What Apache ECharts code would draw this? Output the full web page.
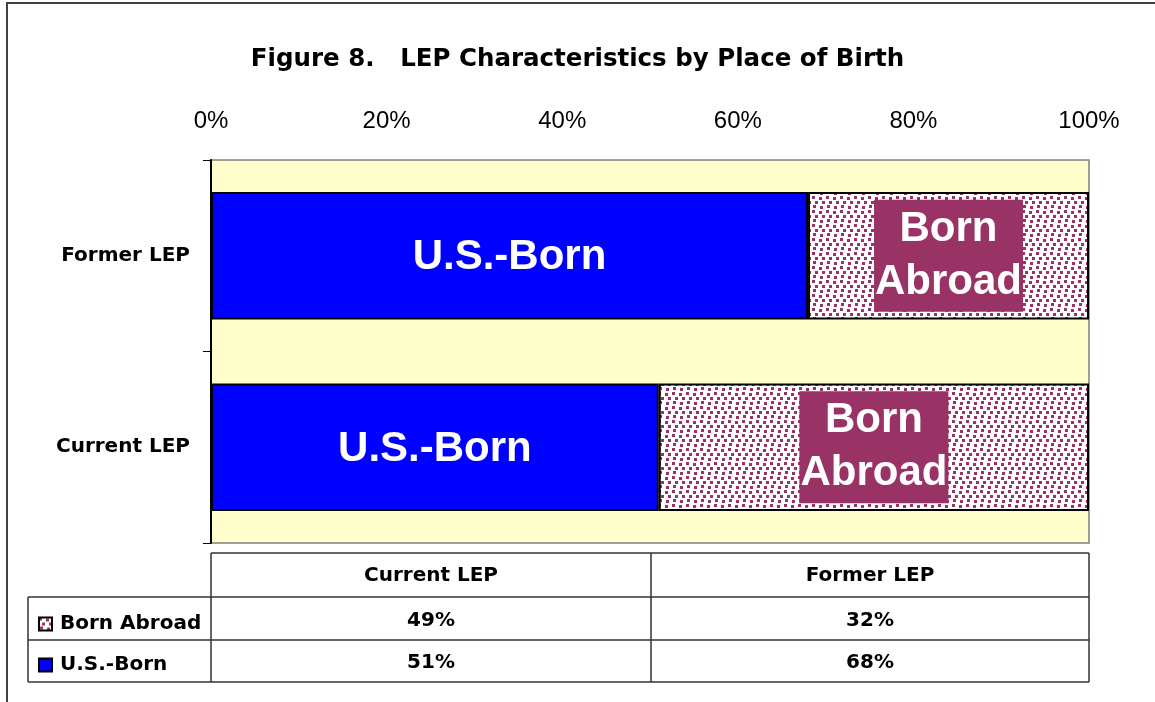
<!DOCTYPE html>
<html>
<head>
<meta charset="utf-8">
<script src="https://cdn.jsdelivr.net/npm/echarts@6/dist/echarts.min.js"></script>
<style>
  html, body { margin: 0; padding: 0; background: #fff; }
  #chart { width: 1155px; height: 702px; }
</style>
</head>
<body>
<div id="chart"></div>
<script>
  // data
  var categories = ['Current LEP', 'Former LEP'];
  var usBorn = [51, 68];
  var bornAbroad = [49, 32];
  var xTicks = [0, 20, 40, 60, 80, 100];

  var FONT = 'Liberation Sans, Arial, sans-serif';
  // the original text is widely tracked, DejaVu gets close to that width
  var WIDE = 'DejaVu Sans, Liberation Sans, sans-serif';
  var PURPLE = '#993366';

  // dotted fill used by Excel for "Born Abroad"
  function dotPattern() {
    var c = document.createElement('canvas');
    c.width = 14;
    c.height = 14;
    var ctx = c.getContext('2d');
    ctx.fillStyle = '#fff';
    ctx.fillRect(0, 0, 14, 14);
    ctx.fillStyle = PURPLE;
    var dots = [[0, 0], [7, 1], [3, 5], [10, 5], [1, 9], [8, 10]];
    dots.forEach(function (d) { ctx.fillRect(d[0], d[1], 3, 3); });
    return c;
  }
  var pattern = { image: dotPattern(), repeat: 'repeat' };

  // table geometry (below the plot)
  var tbl = { left: 28, x0: 211, mid: 651, x1: 1089, rows: [553, 597, 640, 682] };

  function line(x1, y1, x2, y2) {
    return {
      type: 'line',
      shape: { x1: x1, y1: y1, x2: x2, y2: y2 },
      style: { stroke: '#333', lineWidth: 1.5 }
    };
  }
  function cellText(x, y, t) {
    return {
      type: 'text',
      x: x, y: y,
      style: {
        text: t, fill: '#000', font: 'bold 20px ' + WIDE,
        align: 'center', verticalAlign: 'middle'
      }
    };
  }

  var graphics = [
    {
      type: 'rect',
      shape: { x: 7, y: 3, width: 1170, height: 720 },
      style: { fill: 'none', stroke: '#404040', lineWidth: 2 },
      silent: true
    },
    line(tbl.x0, tbl.rows[0], tbl.x1, tbl.rows[0]),
    line(tbl.left, tbl.rows[1], tbl.x1, tbl.rows[1]),
    line(tbl.left, tbl.rows[2], tbl.x1, tbl.rows[2]),
    line(tbl.left, tbl.rows[3], tbl.x1, tbl.rows[3]),
    line(tbl.left, tbl.rows[1], tbl.left, tbl.rows[3]),
    line(tbl.x0, tbl.rows[0], tbl.x0, tbl.rows[3]),
    line(tbl.mid, tbl.rows[0], tbl.mid, tbl.rows[3]),
    line(tbl.x1, tbl.rows[0], tbl.x1, tbl.rows[3])
  ];
  var colCenters = [(tbl.x0 + tbl.mid) / 2, (tbl.mid + tbl.x1) / 2];
  categories.forEach(function (c, i) {
    graphics.push(cellText(colCenters[i], (tbl.rows[0] + tbl.rows[1]) / 2 + 1, c));
    graphics.push(cellText(colCenters[i], (tbl.rows[1] + tbl.rows[2]) / 2 + 2, bornAbroad[i] + '%'));
    graphics.push(cellText(colCenters[i], (tbl.rows[2] + tbl.rows[3]) / 2 + 2, usBorn[i] + '%'));
  });

  var myChart = echarts.init(document.getElementById('chart'));
  myChart.setOption({
    animation: false,
    title: {
      text: 'Figure 8.   LEP Characteristics by Place of Birth',
      left: 'center',
      top: 42,
      textStyle: { fontFamily: WIDE, fontSize: 24.5, fontWeight: 'bold', color: '#000' }
    },
    legend: {
      data: ['Born Abroad', 'U.S.-Born'],
      orient: 'vertical',
      left: 33,
      top: 609,
      itemWidth: 13,
      itemHeight: 13,
      itemGap: 21,
      icon: 'rect',
      textStyle: {
        fontFamily: WIDE, fontSize: 20, fontWeight: 'bold', color: '#000',
        padding: [0, 0, 0, 3]
      }
    },
    grid: {
      left: 211,
      right: 66,
      top: 160,
      bottom: 159,
      show: true,
      backgroundColor: '#FFFFCC',
      borderColor: '#808080',
      borderWidth: 1.5
    },
    xAxis: {
      type: 'value',
      position: 'top',
      min: xTicks[0],
      max: xTicks[xTicks.length - 1],
      interval: 20,
      axisLine: { show: false },
      axisTick: { show: false },
      splitLine: { show: false },
      axisLabel: {
        formatter: '{value}%',
        fontFamily: FONT,
        fontSize: 24,
        color: '#000',
        margin: 27
      }
    },
    yAxis: {
      type: 'category',
      data: categories,
      axisLine: { show: true, lineStyle: { color: '#000', width: 2 } },
      axisTick: { show: true, length: 8, lineStyle: { color: '#000', width: 1 } },
      axisLabel: {
        fontFamily: WIDE,
        fontSize: 20,
        fontWeight: 'bold',
        color: '#000',
        margin: 21
      }
    },
    series: [
      {
        name: 'U.S.-Born',
        type: 'bar',
        stack: 'total',
        data: usBorn,
        barCategoryGap: '33.3%',
        itemStyle: { color: '#0000FF', borderColor: '#000', borderWidth: 2 },
        label: {
          show: true,
          position: 'inside',
          offset: [0, 2],
          formatter: 'U.S.-Born',
          color: '#fff',
          fontFamily: FONT,
          fontSize: 42,
          fontWeight: 'bold'
        }
      },
      {
        name: 'Born Abroad',
        type: 'bar',
        stack: 'total',
        data: bornAbroad,
        itemStyle: { color: pattern, borderColor: '#000', borderWidth: 2 },
        label: {
          show: true,
          position: 'inside',
          formatter: 'Born\nAbroad',
          color: '#fff',
          backgroundColor: PURPLE,
          padding: [3, 1, 3, 1],
          lineHeight: 53,
          fontFamily: FONT,
          fontSize: 42,
          fontWeight: 'bold'
        }
      }
    ],
    graphic: graphics
  });

  window.addEventListener('resize', function () {
    myChart.resize();
  });
</script>
</body>
</html>
